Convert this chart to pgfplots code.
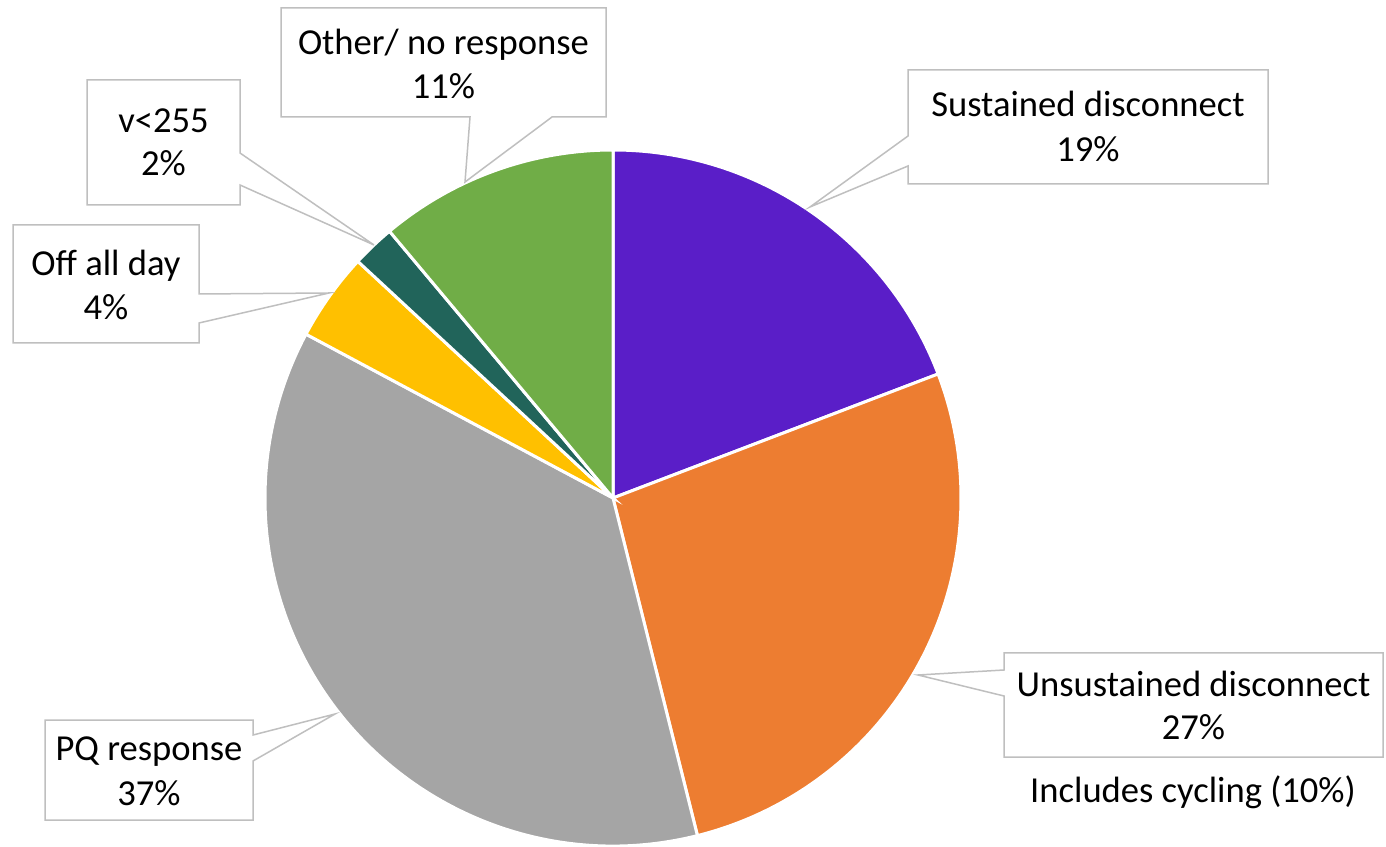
\documentclass[border=0pt]{standalone}
\usepackage{pgfplots}
\usepackage{pgfplotstable}
\pgfplotsset{compat=1.18}
\usepackage{fontspec}
\setmainfont{Carlito}
\definecolor{cSus}{HTML}{5A1EC8}
\definecolor{cUns}{HTML}{ED7D31}
\definecolor{cPQ}{HTML}{A5A5A5}
\definecolor{cOff}{HTML}{FFC000}
\definecolor{cV}{HTML}{21645A}
\definecolor{cOth}{HTML}{70AD47}
\definecolor{cBox}{HTML}{BFBFBF}

\pgfplotstableread{
name value
Sustained 19.2
Unsustained 26.9
PQ 36.7
Off 4.1
v255 2.0
Other 11.1
}\piedata

\begin{document}
\begin{tikzpicture}
\pgfplotstablegetelem{0}{value}\of\piedata \pgfmathsetmacro\aA{90-3.6*\pgfplotsretval}
\pgfplotstablegetelem{1}{value}\of\piedata \pgfmathsetmacro\aB{\aA-3.6*\pgfplotsretval}
\pgfplotstablegetelem{2}{value}\of\piedata \pgfmathsetmacro\aC{\aB-3.6*\pgfplotsretval}
\pgfplotstablegetelem{3}{value}\of\piedata \pgfmathsetmacro\aD{\aC-3.6*\pgfplotsretval}
\pgfplotstablegetelem{4}{value}\of\piedata \pgfmathsetmacro\aE{\aD-3.6*\pgfplotsretval}
\pgfplotstablegetelem{5}{value}\of\piedata \pgfmathsetmacro\aF{\aE-3.6*\pgfplotsretval}
\def\R{174pt}
\begin{axis}[x=0.5pt, y=0.5pt, xmin=0, xmax=1386, ymin=0, ymax=846,
  scale only axis, hide axis, clip=false]
\path (axis cs:0,0) rectangle (axis cs:1386,846);
% wedges
\tikzset{wedge/.style={overlay, draw=white, line width=1.5pt, line join=miter}}
\fill[cSus, wedge] (axis cs:613,348) -- ++(90:\R) arc[start angle=90, end angle=\aA, radius=\R] -- cycle;
\fill[cUns, wedge] (axis cs:613,348) -- ++(\aA:\R) arc[start angle=\aA, end angle=\aB, radius=\R] -- cycle;
\fill[cPQ, wedge] (axis cs:613,348) -- ++(\aB:\R) arc[start angle=\aB, end angle=\aC, radius=\R] -- cycle;
\fill[cOff, wedge] (axis cs:613,348) -- ++(\aC:\R) arc[start angle=\aC, end angle=\aD, radius=\R] -- cycle;
\fill[cV, wedge] (axis cs:613,348) -- ++(\aD:\R) arc[start angle=\aD, end angle=\aE, radius=\R] -- cycle;
\fill[cOth, wedge] (axis cs:613,348) -- ++(\aE:\R) arc[start angle=\aE, end angle=\aF, radius=\R] -- cycle;
% callouts
\tikzset{callout/.style={draw=cBox, fill=white, line width=0.75pt, line join=miter}}
\draw[callout] (axis cs:908,776) -- (axis cs:1268,776) -- (axis cs:1268,662) -- (axis cs:908,662) -- (axis cs:908,680) -- (axis cs:810,639) -- (axis cs:908,710) -- cycle;
\draw[callout] (axis cs:281,838) -- (axis cs:606,838) -- (axis cs:606,729) -- (axis cs:552,729) -- (axis cs:465,664) -- (axis cs:470,729) -- (axis cs:281,729) -- cycle;
\draw[callout] (axis cs:87,766) -- (axis cs:240,766) -- (axis cs:240,693) -- (axis cs:374,601) -- (axis cs:240,661) -- (axis cs:240,641) -- (axis cs:87,641) -- cycle;
\draw[callout] (axis cs:13,621) -- (axis cs:199,621) -- (axis cs:199,552) -- (axis cs:329,553) -- (axis cs:199,523) -- (axis cs:199,503) -- (axis cs:13,503) -- cycle;
\draw[callout] (axis cs:45,126) -- (axis cs:253,126) -- (axis cs:253,111) -- (axis cs:335,132) -- (axis cs:253,85) -- (axis cs:253,26) -- (axis cs:45,26) -- cycle;
\draw[callout] (axis cs:1004,193) -- (axis cs:1383,193) -- (axis cs:1383,89) -- (axis cs:1004,89) -- (axis cs:1004,150) -- (axis cs:918,171) -- (axis cs:1004,176) -- cycle;
% texts
\tikzset{lab/.style={anchor=base, inner sep=0pt, font=\fontsize{18.3}{22}\selectfont}}
\node[lab] at (axis cs:1088,729) {Sustained disconnect};
\node[lab] at (axis cs:1088,684) {19\%};
\node[lab] at (axis cs:443.5,791) {Other/ no response};
\node[lab] at (axis cs:443.5,747) {11\%};
\node[lab] at (axis cs:163.5,713) {v<255};
\node[lab] at (axis cs:163.5,670) {2\%};
\node[lab] at (axis cs:106,570) {Off all day};
\node[lab] at (axis cs:106,526) {4\%};
\node[lab] at (axis cs:149,86) {PQ response};
\node[lab] at (axis cs:149,41) {37\%};
\node[lab] at (axis cs:1193.5,149) {Unsustained disconnect};
\node[lab] at (axis cs:1193.5,106) {27\%};
\node[lab] at (axis cs:1193,44) {Includes cycling (10\%)};
\end{axis}
\end{tikzpicture}
\end{document}
